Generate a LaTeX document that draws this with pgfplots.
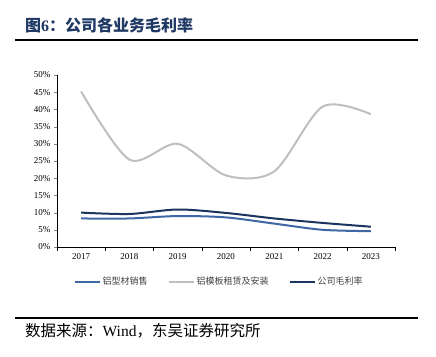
\documentclass[border=0pt]{standalone}
\usepackage{fontspec}
\setmainfont{Liberation Serif}
\newfontfamily\cjk{Noto Sans CJK SC}
\usepackage{pgfplots}
\pgfplotsset{compat=1.18}
\definecolor{cblue}{HTML}{3F67A5}
\definecolor{cgray}{HTML}{BFBFBF}
\definecolor{cnavy}{HTML}{1B3560}
\definecolor{titlec}{HTML}{1F3864}
\begin{document}
\begin{tikzpicture}[x=1pt,y=1pt]
\fill[white] (0,0) rectangle (436,356);
\node[anchor=west, text=titlec, inner sep=0pt, font=\fontsize{16}{18}\selectfont\bfseries] at (25,331) {{\cjk 图}6{\cjk ：公司各业务毛利率}};
\draw[line width=1.2pt] (15,316) -- (418,316);
\draw[line width=1.2pt] (15,38) -- (418,38);
\node[anchor=west, inner sep=0pt, font=\fontsize{15.5}{17}\selectfont] at (25,25) {{\cjk 数据来源：}Wind{\cjk ，东吴证券研究所}};
\begin{axis}[
  at={(57pt,109pt)}, anchor=south west,
  scale only axis, width=338pt, height=172pt,
  xmin=-0.5, xmax=6.5, ymin=0, ymax=50,
  axis x line*=bottom, axis y line*=left,
  xtick={0,...,6}, xticklabels={2017,2018,2019,2020,2021,2022,2023},
  major x tick style={draw=none},
  minor xtick={-0.5,0.5,...,6.5},
  minor x tick style={black, thin},
  ytick={0,5,...,50},
  yticklabel={\pgfmathprintnumber{\tick}\%},
  /pgf/number format/assume math mode=true,
  tick label style={font=\fontsize{9}{10}\selectfont},
  tick align=outside,
  major tick length=3pt, minor tick length=4pt,
  axis line style={black, thin},
  legend style={at={(0.48,-0.15)}, anchor=north, draw=none, legend columns=3,
    font=\cjk\fontsize{9}{10}\selectfont, text=black!75,
    /tikz/every even column/.append style={column sep=18pt}},
  legend image code/.code={\draw[#1] (0pt,0pt) -- (25pt,0pt);},
  every axis plot/.append style={line width=2pt, smooth, no markers},
]
\addplot[cblue] coordinates {(0,8.3) (1,8.3) (2,9.0) (3,8.6) (4,6.8) (5,5.0) (6,4.6)};
\addlegendentry{铝型材销售}
\addplot[cgray] coordinates {(0,45.2) (1,25.4) (2,30.0) (3,20.8) (4,22.0) (5,40.8) (6,38.6)};
\addlegendentry{铝模板租赁及安装}
\addplot[cnavy] coordinates {(0,10.0) (1,9.6) (2,10.9) (3,9.9) (4,8.3) (5,7.0) (6,5.9)};
\addlegendentry{公司毛利率}
\end{axis}
\end{tikzpicture}
\end{document}
